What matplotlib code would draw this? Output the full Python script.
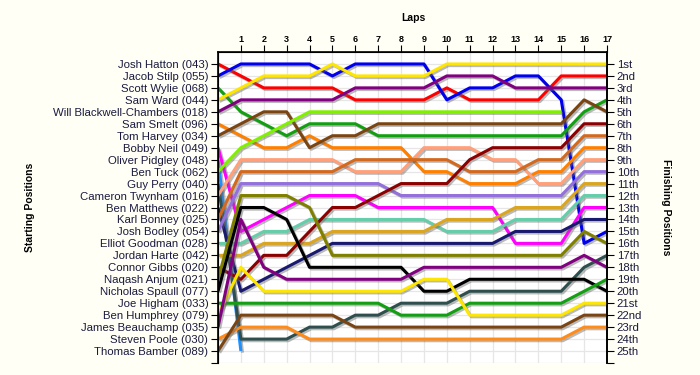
import numpy as np
import matplotlib
matplotlib.use("Agg")
import matplotlib.pyplot as plt
import matplotlib.patheffects as pe

N = np.nan
laps = list(range(0, 18))
lap_labels = [str(i) for i in range(1, 18)]

drivers = ["Josh Hatton (043)", "Jacob Stilp (055)", "Scott Wylie (068)", "Sam Ward (044)",
           "Will Blackwell-Chambers (018)", "Sam Smelt (096)", "Tom Harvey (034)",
           "Bobby Neil (049)", "Oliver Pidgley (048)", "Ben Tuck (062)", "Guy Perry (040)",
           "Cameron Twynham (016)", "Ben Matthews (022)", "Karl Bonney (025)",
           "Josh Bodley (054)", "Elliot Goodman (028)", "Jordan Harte (042)",
           "Connor Gibbs (020)", "Naqash Anjum (021)", "Nicholas Spaull (077)",
           "Joe Higham (033)", "Ben Humphrey (079)", "James Beauchamp (035)",
           "Steven Poole (030)", "Thomas Bamber (089)"]

finish_labels = ["1st", "2nd", "3rd", "4th", "5th", "6th", "7th", "8th", "9th", "10th",
                 "11th", "12th", "13th", "14th", "15th", "16th", "17th", "18th", "19th",
                 "20th", "21st", "22nd", "23rd", "24th", "25th"]

hatton    = [1, 2, 3, 3, 3, 3, 4, 4, 4, 4, 3, 4, 4, 4, 4, 2, 2, 2]
stilp     = [2, 1, 1, 1, 1, 2, 1, 1, 1, 1, 4, 3, 3, 2, 2, 4, 16, 15]
wylie     = [3, 5, 6, 7, 6, 6, 6, 7, 7, 7, 7, 7, 7, 7, 7, 7, 5, 4]
ward      = [4, 3, 2, 2, 2, 1, 2, 2, 2, 2, 1, 1, 1, 1, 1, 1, 1, 1]
blackwell = [5, 4, 4, 4, 4, 4, 3, 3, 3, 3, 2, 2, 2, 3, 3, 3, 3, 3]
smelt     = [6, 7, 8, 8, 7, 8, 8, 8, 8, 10, 10, 11, 11, 11, 10, 10, 8, 8]
harvey    = [7, 6, 5, 5, 8, 7, 7, 6, 6, 6, 6, 6, 6, 6, 6, 6, 4, 5]
neil      = [8, 15, 14, 13, 12, 12, 12, 13, 13, 13, 13, 13, 13, 16, 16, 16, 13, 13]
pidgley   = [9, 25, N, N, N, N, N, N, N, N, N, N, N, N, N, N, N, N]
tuck      = [10, 8, 7, 6, 5, 5, 5, 5, 5, 5, 5, 5, 5, 5, 5, 5, N, N]
perry     = [11, 24, 24, 24, 23, 23, 22, 22, 21, 21, 21, 20, 20, 20, 20, 20, 18, 17]
twynham   = [12, 9, 9, 9, 9, 9, 10, 10, 10, 8, 8, 8, 9, 9, 11, 11, 9, 9]
matthews  = [13, 20, 19, 18, 17, 16, 16, 16, 16, 16, 16, 16, 16, 15, 15, 15, 14, 14]
bonney    = [14, 10, 10, 10, 10, 10, 9, 9, 9, 9, 9, 10, 10, 10, 9, 9, 7, 7]
bodley    = [15, 11, 11, 11, 11, 11, 11, 11, 12, 12, 12, 12, 12, 12, 12, 12, 10, 10]
goodman   = [16, 16, 15, 15, 14, 14, 14, 14, 14, 14, 15, 15, 15, 14, 14, 14, 12, 12]
harte     = [17, 17, 16, 16, 16, 15, 15, 15, 15, 15, 14, 14, 14, 13, 13, 13, 11, 11]
gibbs     = [18, 19, 17, 17, 15, 13, 13, 12, 11, 11, 11, 9, 8, 8, 8, 8, 6, 6]
anjum     = [19, 12, 12, 12, 13, 17, 17, 17, 17, 17, 17, 17, 17, 17, 17, 17, 15, 16]
spaull    = [20, 13, 13, 14, 18, 18, 18, 18, 18, 20, 20, 19, 19, 19, 19, 19, 19, 20]
higham    = [21, 21, 21, 21, 21, 21, 21, 21, 22, 22, 22, 21, 21, 21, 21, 21, 20, 19]
humphrey  = [22, 18, 20, 20, 20, 20, 20, 20, 20, 19, 19, 22, 22, 22, 22, 22, 21, 21]
beauchamp = [23, 14, 18, 19, 19, 19, 19, 19, 19, 18, 18, 18, 18, 18, 18, 18, 17, 18]
poole     = [24, 23, 23, 23, 24, 24, 24, 24, 24, 24, 24, 24, 24, 24, 24, 24, 23, 23]
bamber    = [25, 22, 22, 22, 22, 22, 23, 23, 23, 23, 23, 23, 23, 23, 23, 23, 22, 22]

series = [hatton, stilp, wylie, ward, blackwell, smelt, harvey, neil, pidgley, tuck,
          perry, twynham, matthews, bonney, bodley, goodman, harte, gibbs, anjum,
          spaull, higham, humphrey, beauchamp, poole, bamber]

colors = ["#FF0000", "#0000EE", "#12A012", "#FFE600", "#800080", "#FF8000", "#7B4513",
          "#FF00FF", "#1E90FF", "#80F000", "#2F4F4F", "#FFA07A", "#191970", "#D2691E",
          "#9370DB", "#66CDAA", "#DAA520", "#8B0000", "#808000", "#000000", "#12A012",
          "#FFE600", "#800080", "#FF8C1A", "#7B4513"]

label_font = "Liberation Sans"

fig = plt.figure(figsize=(7, 3.75), dpi=100, facecolor="#FFFFF6")
ax = fig.add_axes([218 / 700, 1 - 363 / 375, (607 - 218) / 700, (363 - 52) / 375])
ax.set_facecolor("white")

for s, c in zip(series, colors):
    ax.plot(laps, s, color=c, lw=2.2, solid_joinstyle="round", solid_capstyle="butt",
            zorder=3,
            path_effects=[pe.SimpleLineShadow(offset=(1.2, -1.2), shadow_color="#666666", alpha=0.45),
                          pe.Normal()])

ax.set_xlim(0, 17)
ax.set_ylim(26, 0)

for x in laps:
    ax.axvline(x, color="#E6E6E6", lw=0.9, zorder=1)
for y in range(1, 27):
    ax.axhline(y, color="#E6E6E6", lw=0.9, zorder=1)

ax.spines["bottom"].set_visible(False)
for sp in ["left", "right", "top"]:
    ax.spines[sp].set_linewidth(1.2)

ax.xaxis.tick_top()
ax.set_xticks(list(range(1, 18)))
ax.set_xticklabels(lap_labels, fontsize=6.5, fontweight="bold", family=label_font)
ax.tick_params(axis="x", direction="out", length=5, pad=1, top=True, bottom=False)

ax.set_yticks(list(range(1, 27)))
ax.set_yticklabels(drivers + [""], fontsize=8.2, color="#1a1a40", family=label_font)
ax.tick_params(axis="y", direction="out", length=5, pad=2)

ax2 = ax.twinx()
ax2.set_ylim(26, 0)
ax2.set_yticks(list(range(1, 27)))
ax2.set_yticklabels(finish_labels + [""], fontsize=8.2, color="#1a1a40", family=label_font)
ax2.tick_params(axis="y", direction="out", length=5, pad=2)
ax2.spines["bottom"].set_visible(False)
ax2.spines["right"].set_linewidth(1.2)

fig.text(413 / 700, 1 - 18 / 375, "Laps", ha="center", va="center", fontsize=7.5,
         fontweight="bold", family=label_font)
fig.text(30 / 700, 1 - 207 / 375, "Starting Positions", ha="center", va="center",
         rotation=90, fontsize=7.5, fontweight="bold", family=label_font)
fig.text(666 / 700, 1 - 207 / 375, "Finishing Positions", ha="center", va="center",
         rotation=-90, fontsize=7.5, fontweight="bold", family=label_font)

fig.savefig("out.png", dpi=100, facecolor=fig.get_facecolor())
